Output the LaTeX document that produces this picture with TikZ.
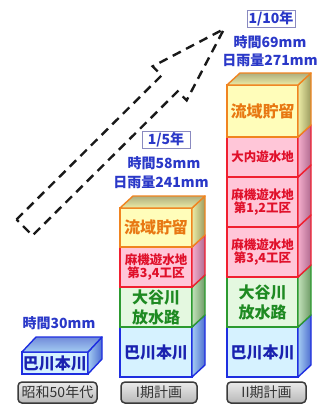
\documentclass[tikz,border=0pt]{standalone}
\usepackage{fontspec}
\newfontfamily\jp{Noto Sans CJK JP}
\usetikzlibrary{calc}
\definecolor{bBord}{HTML}{1E2EE0}
\definecolor{bFill}{HTML}{D6F2FF}
\definecolor{bSideA}{HTML}{A4CCF2}
\definecolor{bSideB}{HTML}{4E6ED0}
\definecolor{bText}{HTML}{1A22B0}
\definecolor{gBord}{HTML}{2C9A30}
\definecolor{gFill}{HTML}{E4F8E0}
\definecolor{gSideA}{HTML}{C2E2BA}
\definecolor{gSideB}{HTML}{6E9A66}
\definecolor{gText}{HTML}{1E8A22}
\definecolor{pBord}{HTML}{F02030}
\definecolor{pFill}{HTML}{FFC6D8}
\definecolor{pSideA}{HTML}{F4AECC}
\definecolor{pSideB}{HTML}{B06A90}
\definecolor{pText}{HTML}{E0102A}
\definecolor{yBord}{HTML}{F08420}
\definecolor{yFill}{HTML}{FFFDBA}
\definecolor{ySideA}{HTML}{ECECA6}
\definecolor{ySideB}{HTML}{9A9A5E}
\definecolor{yText}{HTML}{E87812}
\definecolor{capBlue}{HTML}{2A38C8}
\definecolor{capFrame}{HTML}{8A8AC0}
\definecolor{labBord}{HTML}{3A3A3A}
\definecolor{labText}{HTML}{333333}
\newcommand\sideface[4]{%
  \path[left color=#2SideA, right color=#2SideB, draw=#2Bord, line width=1.4pt, line join=round]
    (#1.south east) -- ($(#1.south east)+(#3,-#4)$) -- ($(#1.north east)+(#3,-#4)$) -- (#1.north east) -- cycle;}
\newcommand\topface[4]{%
  \path[top color=#2SideB!80!white, bottom color=#2SideA, draw=#2Bord, line width=1.4pt, line join=round]
    (#1.north west) -- ($(#1.north west)+(#3,-#4)$) -- ($(#1.north east)+(#3,-#4)$) -- (#1.north east) -- cycle;}
\begin{document}
\begin{tikzpicture}[x=1pt,y=-1pt,
  face/.style={draw, line width=1.6pt, inner sep=0pt, outer sep=0pt, align=center, font=\jp\bfseries},
  bface/.style={face, draw=bBord, fill=bFill, text=bText},
  gface/.style={face, draw=gBord, fill=gFill, text=gText},
  pface/.style={face, draw=pBord, fill=pFill, text=pText},
  yface/.style={face, draw=yBord, fill=yFill, text=yText},
  big/.style={font=\jp\bfseries\fontsize{16}{20}\selectfont},
  small/.style={font=\jp\bfseries\fontsize{12.5}{13.5}\selectfont},
  colA/.style={minimum width=72pt},
  colB/.style={minimum width=71pt},
  lab/.style={draw=labBord, line width=1.5pt, rounded corners=4pt, top color=white!92!black, bottom color=white!72!black,
     minimum height=21pt, inner sep=0pt, text=labText, font=\jp\fontsize{14}{14}\selectfont},
  captext/.style={text=capBlue, inner sep=0pt, font=\jp\bfseries\fontsize{14}{14}\selectfont},
  capbox/.style={captext, draw=capFrame, line width=0.8pt, fill=white, minimum width=48pt, minimum height=17pt},
  dasharrow/.style={draw=black!90, line width=2.4pt, dash pattern=on 9pt off 6pt, line join=miter}
]
\useasboundingbox (0,0) rectangle (325,405);

% dashed hollow arrow
\coordinate (tlu) at (16.5,219.5);
\coordinate (tll) at (32.5,235.5);
\coordinate (s1) at (161.6,75.4);
\coordinate (w1) at (152.6,66.4);
\coordinate (tip) at (224,29);
\coordinate (w2) at (186.6,100.4);
\coordinate (s2) at (177.6,91.4);
\draw[dasharrow] (tlu) -- (s1) -- (w1) -- (tip) -- (w2) -- (s2) -- (tll) -- cycle;

% left column
\node[bface, big, minimum width=66pt, minimum height=22pt] (l1) at (55,363) {巴川本川};
\sideface{l1}{b}{14}{15}\topface{l1}{b}{14}{15}

% middle column
\node[bface, big, colA, minimum height=50pt] (m1) at (156,352) {巴川本川};
\sideface{m1}{b}{13}{12}
\node[gface, big, colA, minimum height=40pt] (m2) at (156,307) {大谷川\\放水路};
\sideface{m2}{g}{13}{12}
\node[pface, small, colA, minimum height=40pt] (m3) at (156,267) {麻機遊水地\\第3,4工区};
\sideface{m3}{p}{13}{12}
\node[yface, big, colA, minimum height=39pt] (m4) at (156,227.5) {流域貯留};
\sideface{m4}{y}{13}{12}\topface{m4}{y}{13}{12}

% right column
\node[bface, big, colB, minimum height=50pt] (r1) at (262.5,352) {巴川本川};
\sideface{r1}{b}{13}{12}
\node[gface, big, colB, minimum height=50pt] (r2) at (262.5,302) {大谷川\\放水路};
\sideface{r2}{g}{13}{12}
\node[pface, small, colB, minimum height=50pt] (r3) at (262.5,252) {麻機遊水地\\第3,4工区};
\sideface{r3}{p}{13}{12}
\node[pface, small, colB, minimum height=50pt] (r4) at (262.5,202) {麻機遊水地\\第1,2工区};
\sideface{r4}{p}{13}{12}
\node[pface, small, colB, minimum height=40pt] (r5) at (262.5,157) {大内遊水地};
\sideface{r5}{p}{13}{12}
\node[yface, big, colB, minimum height=52pt] (r6) at (262.5,111) {流域貯留};
\sideface{r6}{y}{13}{12}\topface{r6}{y}{13}{12}

% period labels
\node[lab, minimum width=79pt] (p1) at (57.5,392.5) {昭和50年代};
\node[lab, minimum width=76pt] (p2) at (159,392.5) {I期計画};
\node[lab, minimum width=79pt] (p3) at (266.5,392.5) {II期計画};

% captions
\node[captext] (c0) at (59,323) {時間30mm};
\node[capbox] (c1y) at (166,140) {1/5年};
\node[captext] (c1a) at (164,163) {時間58mm};
\node[captext] (c1b) at (161,182) {日雨量241mm};
\node[capbox] (c2y) at (271,18.5) {1/10年};
\node[captext] (c2a) at (270,42) {時間69mm};
\node[captext] (c2b) at (270,60) {日雨量271mm};
\end{tikzpicture}
\end{document}
